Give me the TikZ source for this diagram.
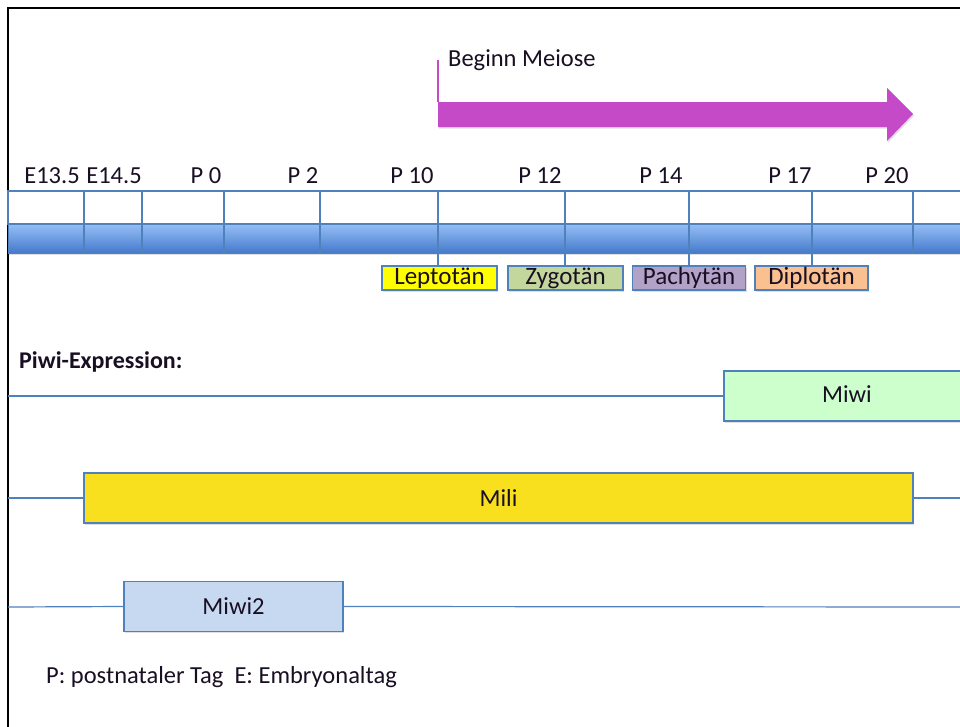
\documentclass[tikz,border=0pt]{standalone}
\usepackage{fontspec}
\setmainfont{Carlito}
\usetikzlibrary{shadows}
\definecolor{lineblue}{RGB}{79,129,189}
\definecolor{bartop}{RGB}{150,190,245}
\definecolor{barbot}{RGB}{68,122,204}
\definecolor{meiosis}{RGB}{196,74,200}
\definecolor{miliyellow}{RGB}{248,224,30}
\definecolor{miwigreen}{RGB}{204,255,204}
\definecolor{miwitwoblue}{RGB}{198,217,241}
\definecolor{leptocol}{RGB}{255,255,0}
\definecolor{zygocol}{RGB}{195,214,155}
\definecolor{pachycol}{RGB}{179,162,199}
\definecolor{diplocol}{RGB}{250,192,144}
\definecolor{txt}{RGB}{25,15,35}
\tikzset{
  lbl/.style={font=\fontsize{24.5}{28}\selectfont, text=txt, inner sep=0pt},
  stagebox/.style={draw=lineblue, line width=1.2pt, minimum height=24pt, inner sep=0pt,
    font=\fontsize{25}{28}\selectfont, text=txt,
    drop shadow={shadow xshift=1.2pt, shadow yshift=-1.5pt, opacity=0.25}},
  exprbox/.style={draw=lineblue, line width=1.2pt, minimum height=50pt, inner sep=0pt,
    font=\fontsize{24.5}{28}\selectfont, text=txt,
    drop shadow={shadow xshift=1.2pt, shadow yshift=-1.5pt, opacity=0.25}},
  rowline/.style={draw=lineblue, line width=1.2pt},
  tick/.style={draw=lineblue, line width=1.2pt},
}
\begin{document}
\begin{tikzpicture}[x=1pt, y=-1pt]
\useasboundingbox (0,0) rectangle (960,726);
\fill[white] (0,0) rectangle (960,726);
% frame
\draw[black, line width=2pt] (8,730) -- (8,8) -- (965,8);

% meiosis arrow
\coordinate (mstart) at (438,60);
\coordinate (mbase) at (438,102);
\draw[meiosis, line width=1.2pt] (mstart) -- (mbase);
\fill[meiosis, drop shadow={shadow xshift=1.2pt, shadow yshift=-1.5pt, opacity=0.25}]
  (438,102) -- (887,102) -- (887,88) -- (913,114) -- (887,141) -- (887,127) -- (438,127) -- cycle;
\node[lbl, anchor=west] (beginn) at (448,60) {Beginn Meiose};

% timeline
\draw[lineblue, line width=1.2pt, fill=white] (8,191) rectangle (975,224);
\shade[top color=bartop, bottom color=barbot, drop shadow={shadow xshift=1.2pt, shadow yshift=-1.5pt, opacity=0.25}] (8,224) rectangle (975,253);
\draw[lineblue, line width=1pt] (8,224) rectangle (975,253);

% stage boxes
\node[stagebox, fill=leptocol, minimum width=115pt] (lep) at (439.5,278) {Leptotän};
\node[stagebox, fill=zygocol, minimum width=115pt] (zyg) at (565.5,278) {Zygotän};
\node[stagebox, fill=pachycol, minimum width=113pt] (pach) at (689,278) {Pachytän};
\node[stagebox, fill=diplocol, minimum width=113pt] (dipl) at (811.5,278) {Diplotän};

% ticks
\foreach \x/\n in {84/t1,142/t2,224/t3,320/t4,913/t9}{
  \coordinate (\n) at (\x,191);
  \draw[tick] (\n) -- ++(0,62);
}
\coordinate (t5) at (438,191);
\coordinate (t6) at (565,191);
\coordinate (t7) at (689,191);
\coordinate (t8) at (812,191);
\draw[tick] (t5) -- (t5 |- lep.north);
\draw[tick] (t6) -- (t6 |- zyg.north);
\draw[tick] (t7) -- (t7 |- pach.north);
\draw[tick] (t8) -- (t8 |- dipl.north);

% timeline labels
\node[lbl] (e135) at (52,176) {E13.5};
\node[lbl] (e145) at (114,176) {E14.5};
\node[lbl] (p0) at (206,176) {P 0};
\node[lbl] (p2) at (303,176) {P 2};
\node[lbl] (p10) at (412,176) {P 10};
\node[lbl] (p12) at (540,176) {P 12};
\node[lbl] (p14) at (661,176) {P 14};
\node[lbl] (p17) at (790,176) {P 17};
\node[lbl] (p20) at (887,176) {P 20};

% Piwi expression
\node[lbl, anchor=west, font=\fontsize{24}{28}\selectfont\bfseries] (piwi) at (19,362) {Piwi-Expression:};

\node[exprbox, fill=miwigreen, minimum width=260pt] (miwi) at (854,396) {};
\node[lbl] (miwitext) at (847,394) {Miwi};
\node[exprbox, fill=miliyellow, minimum width=829pt] (mili) at (498.5,498) {Mili};
\node[exprbox, fill=miwitwoblue, minimum width=219pt] (miwitwo) at (233.5,606.5) {Miwi2};

\coordinate (r1l) at (8,396);
\coordinate (r2l) at (8,498);
\coordinate (r2r) at (965,498);
\coordinate (r3l) at (8,607);
\coordinate (r3r) at (965,607);
\draw[rowline] (r1l) -- (miwi.west);
\draw[rowline] (r2l) -- (mili.west);
\draw[rowline] (mili.east) -- (r2r);
\draw[rowline] (r3l) -- (miwitwo.west);
\draw[rowline] (miwitwo.east) -- (r3r);

% legend
\node[lbl, anchor=west] (legend) at (46,677) {P: postnataler Tag\ \ E: Embryonaltag};
\end{tikzpicture}
\end{document}
